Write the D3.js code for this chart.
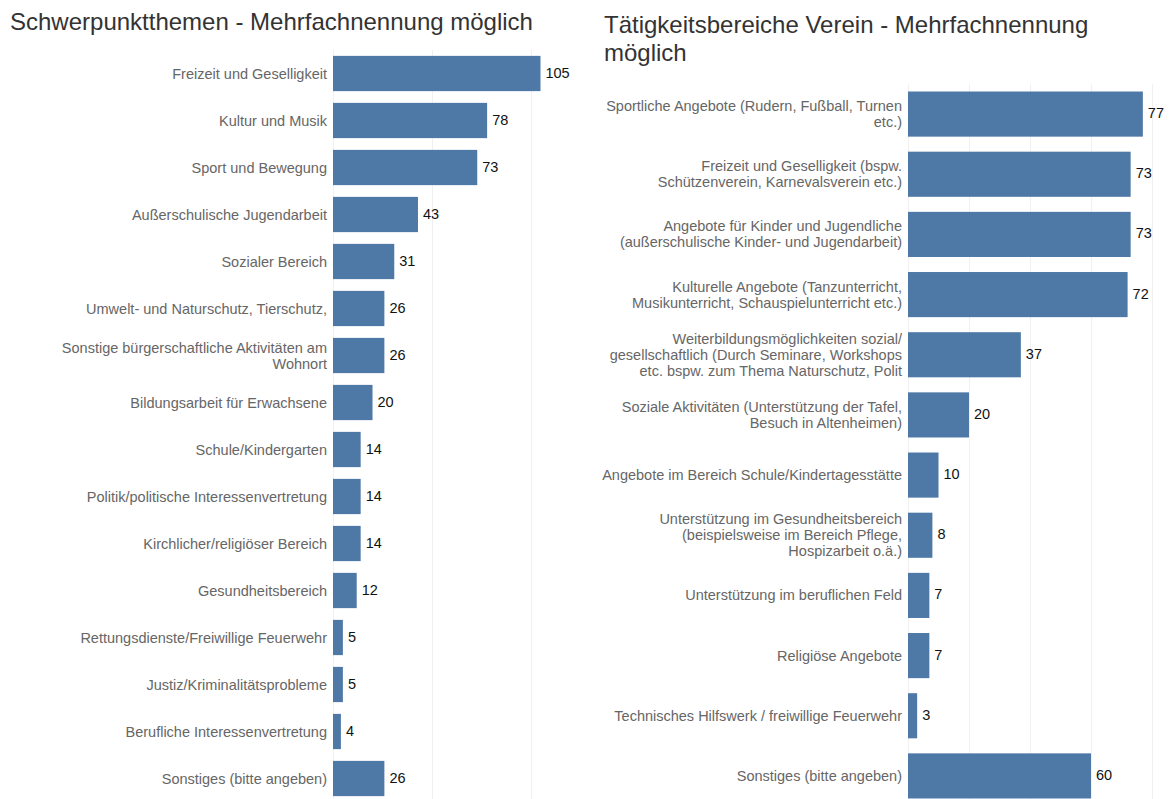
<!DOCTYPE html>
<html>
<head>
<meta charset="utf-8">
<script src="https://cdn.jsdelivr.net/npm/d3@7"></script>
<style>
  body { margin: 0; background: #fff; }
  text { font-family: "Liberation Sans", Arial, sans-serif; }
</style>
</head>
<body>
<div id="chart"></div>
<script>
// left chart
var topicsLeft = [
  "Freizeit und Geselligkeit",
  "Kultur und Musik",
  "Sport und Bewegung",
  "Außerschulische Jugendarbeit",
  "Sozialer Bereich",
  "Umwelt- und Naturschutz, Tierschutz,",
  "Sonstige bürgerschaftliche Aktivitäten am\nWohnort",
  "Bildungsarbeit für Erwachsene",
  "Schule/Kindergarten",
  "Politik/politische Interessenvertretung",
  "Kirchlicher/religiöser Bereich",
  "Gesundheitsbereich",
  "Rettungsdienste/Freiwillige Feuerwehr",
  "Justiz/Kriminalitätsprobleme",
  "Berufliche Interessenvertretung",
  "Sonstiges (bitte angeben)"
];
var countsLeft = [105, 78, 73, 43, 31, 26, 26, 20, 14, 14, 14, 12, 5, 5, 4, 26];
var ticksLeft = [0, 50, 100];

// right chart
var topicsRight = [
  "Sportliche Angebote (Rudern, Fußball, Turnen\netc.)",
  "Freizeit und Geselligkeit (bspw.\nSchützenverein, Karnevalsverein etc.)",
  "Angebote für Kinder und Jugendliche\n(außerschulische Kinder- und Jugendarbeit)",
  "Kulturelle Angebote (Tanzunterricht,\nMusikunterricht, Schauspielunterricht etc.)",
  "Weiterbildungsmöglichkeiten sozial/\ngesellschaftlich (Durch Seminare, Workshops\netc. bspw. zum Thema Naturschutz, Polit",
  "Soziale Aktivitäten (Unterstützung der Tafel,\nBesuch in Altenheimen)",
  "Angebote im Bereich Schule/Kindertagesstätte",
  "Unterstützung im Gesundheitsbereich\n(beispielsweise im Bereich Pflege,\nHospizarbeit o.ä.)",
  "Unterstützung im beruflichen Feld",
  "Religiöse Angebote",
  "Technisches Hilfswerk / freiwillige Feuerwehr",
  "Sonstiges (bitte angeben)"
];
var countsRight = [77, 73, 73, 72, 37, 20, 10, 8, 7, 7, 3, 60];
var ticksRight = [0, 20, 40, 60, 80];

var W = 1175, H = 799;
var barColor = "#4e79a7";

var svg = d3.select("#chart").append("svg")
  .attr("width", W)
  .attr("height", H);

function drawPanel(cfg) {
  var g = svg.append("g");

  var title = g.append("text")
    .attr("x", cfg.titleX)
    .attr("y", cfg.titleY)
    .attr("font-size", 24)
    .attr("fill", "#333");
  cfg.title.forEach(function(t, i) {
    title.append("tspan").attr("x", cfg.titleX).attr("dy", i ? 28 : 0).text(t);
  });

  var x = d3.scaleLinear().domain(cfg.domain).range([cfg.x0, cfg.x1]);
  var y = d3.scaleBand().domain(cfg.cats).range([cfg.y0, cfg.y1]).paddingInner(0.25).paddingOuter(0.125);

  // gridlines
  g.selectAll(".grid").data(cfg.ticks).enter().append("line")
    .attr("x1", function(d) { return Math.round(x(d)) + 0.5; })
    .attr("x2", function(d) { return Math.round(x(d)) + 0.5; })
    .attr("y1", cfg.y0)
    .attr("y2", H)
    .attr("stroke", "#f0f0f0")
    .attr("stroke-width", 1);

  g.selectAll(".bar").data(cfg.cats).enter().append("rect")
    .attr("x", x(0))
    .attr("y", function(d) { return y(d); })
    .attr("width", function(d, i) { return x(cfg.vals[i]) - x(0); })
    .attr("height", y.bandwidth())
    .attr("fill", barColor);

  g.selectAll(".val").data(cfg.cats).enter().append("text")
    .attr("x", function(d, i) { return x(cfg.vals[i]) + 5; })
    .attr("y", function(d) { return y(d) + y.bandwidth() / 2 - 1; })
    .attr("dy", "0.35em")
    .attr("font-size", 14.5)
    .attr("fill", "#111")
    .text(function(d, i) { return cfg.vals[i]; });

  var lbl = g.selectAll(".lbl").data(cfg.cats).enter().append("text")
    .attr("text-anchor", "end")
    .attr("font-size", 14.5)
    .attr("fill", "#666");
  lbl.each(function(d) {
    var lines = d.split("\n");
    var cy = y(d) + y.bandwidth() / 2;
    var first = cy - (lines.length - 1) * 8;
    var t = d3.select(this);
    lines.forEach(function(s, i) {
      t.append("tspan")
        .attr("x", cfg.x0 - 6)
        .attr("y", first + i * 16)
        .attr("dy", "0.35em")
        .text(s);
    });
  });
}

drawPanel({
  title: ["Schwerpunktthemen - Mehrfachnennung möglich"],
  titleX: 10, titleY: 30,
  cats: topicsLeft, vals: countsLeft, ticks: ticksLeft,
  domain: [0, 125], x0: 333, x1: 580,
  y0: 50, y1: 802
});

drawPanel({
  title: ["Tätigkeitsbereiche Verein - Mehrfachnennung", "möglich"],
  titleX: 604, titleY: 33,
  cats: topicsRight, vals: countsRight, ticks: ticksRight,
  domain: [0, 80], x0: 908, x1: 1152,
  y0: 84, y1: 806
});
</script>
</body>
</html>
